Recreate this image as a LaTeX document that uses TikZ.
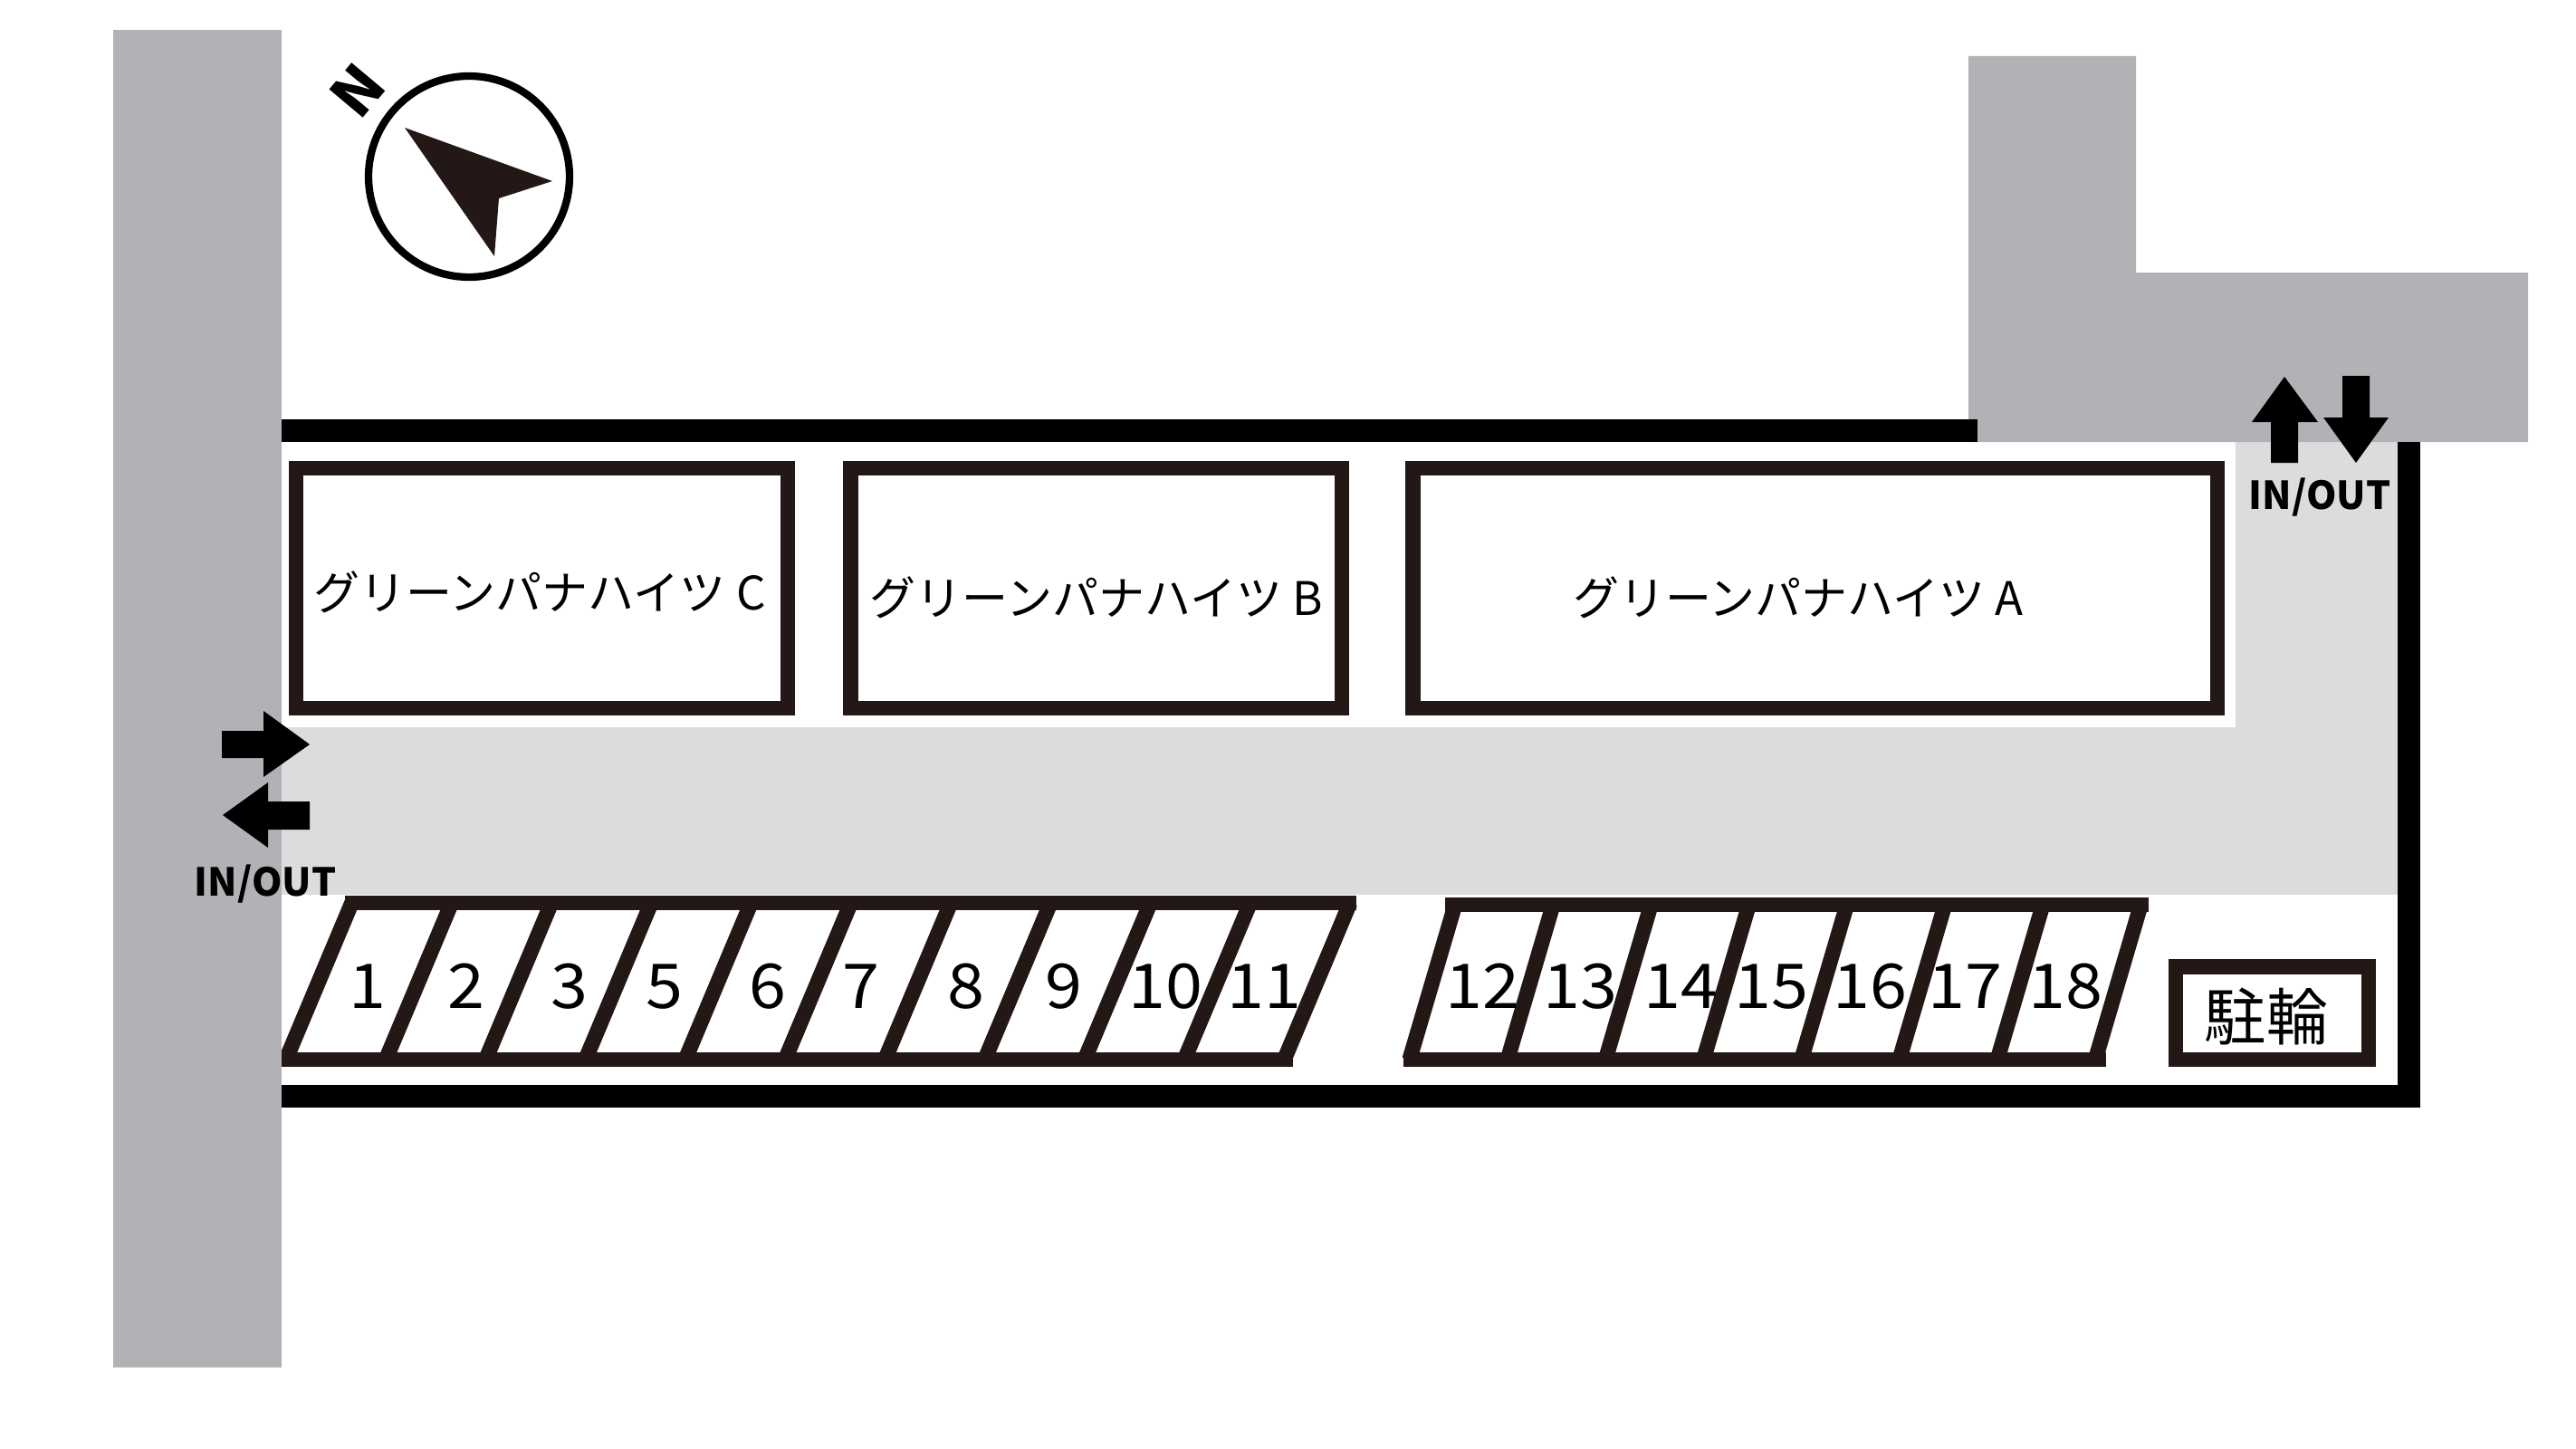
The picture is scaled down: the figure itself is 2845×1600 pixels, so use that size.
\documentclass[tikz,border=0pt]{standalone}
\usepackage{fontspec}
\setmainfont{Noto Sans CJK JP}
\newfontfamily\slotfont[FakeStretch=1.08]{Noto Sans CJK JP}
\definecolor{roadgray}{HTML}{B2B2B6}
\definecolor{lanegray}{HTML}{DCDCDC}
\definecolor{inkbrown}{HTML}{231815}
\tikzset{
  road/.style={fill=roadgray},
  lane/.style={fill=lanegray},
  wall/.style={fill=black},
  bldg/.style={draw=inkbrown, line width=4.75pt, fill=white},
  bar/.style={fill=inkbrown},
  stripe/.style={draw=inkbrown, line width=4.75pt},
  dir/.style={fill=black},
  slotno/.style={anchor=base, inner sep=0pt, font=\slotfont\fontsize{19.4}{23}\selectfont},
  bikename/.style={anchor=base, inner sep=0pt, font=\fontsize{19.4}{23}\selectfont},
  bldgname/.style={anchor=base, inner sep=0pt, font=\fontsize{14.5}{17}\selectfont},
  inout/.style={anchor=base, inner sep=0pt, font=\bfseries\fontsize{12.1}{15}\selectfont},
}

\begin{document}
\begin{tikzpicture}[x=0.01cm, y=-0.01cm]
  \useasboundingbox (0,0) rectangle (2845,1600);

  % lanes
  \fill[lane] (311,803) rectangle (2648,988);
  \fill[lane] (2469,488) rectangle (2648,803);

  % roads
  \fill[road] (125,33) rectangle (311,1510);
  \fill[road] (2174,62) -- (2359,62) -- (2359,301) -- (2792,301) -- (2792,488) -- (2174,488) -- cycle;

  % site walls
  \fill[wall] (311,463) rectangle (2184,488);
  \fill[wall] (2648,488) rectangle (2673,1223);
  \fill[wall] (311,1198) rectangle (2673,1223);

  % compass
  \draw[line width=2.35pt, fill=white] (518,195) circle (111);
  \fill[inkbrown] (447,141) -- (610,200) -- (551,219) -- (546,283) -- cycle;
  \node[rotate=50, inner sep=0pt, font=\bfseries\fontsize{18.5}{22}\selectfont] (north) at (395,100) {N};

  % buildings
  \draw[bldg] (327,517) rectangle (870,782);
  \draw[bldg] (939.5,517) rectangle (1482,782);
  \draw[bldg] (1560.5,517) rectangle (2449,782);
  \node[bldgname] (bldgc) at (596,673) {グリーンパナハイツ C};
  \node[bldgname] (bldgb) at (1211,679) {グリーンパナハイツ B};
  \node[bldgname] (bldga) at (1986,679) {グリーンパナハイツ A};

  % parking, left row
  \fill[bar] (381,989) rectangle (1498,1005);
  \fill[bar] (311,1162) rectangle (1428,1178);
  \begin{scope}
    \clip (311,980) rectangle (1510,1178);
    \foreach \k in {0,...,10}
      \draw[stripe] ({388.5+110.25*\k},997) -- ({315.8+110.25*\k},1170);
  \end{scope}
  \foreach \x/\n in {406/1, 515/2, 629/3, 734/5, 848/6, 951/7, 1067/8, 1175/9, 1287/10, 1396/11}
    \node[slotno] (slot\n) at (\x,1113) {\n};

  % parking, right row
  \fill[bar] (1596,991) rectangle (2373,1007);
  \fill[bar] (1550,1162) rectangle (2326,1178);
  \foreach \k in {0,...,7}
    \draw[stripe] ({1607+108.2*\k},999) -- ({1556.7+108.2*\k},1170);
  \foreach \x/\n in {1637/12, 1745/13, 1856/14, 1956/15, 2065/16, 2170/17, 2281/18}
    \node[slotno] (slot\n) at (\x,1113) {\n};

  % bicycle shed
  \draw[bldg] (2403,1067.5) rectangle (2616,1170);
  \node[bikename] (bike) at (2503,1148) {駐輪};

  % arrows
  \fill[dir] (245,807) -- (291,807) -- (291,785) -- (342,822) -- (291,858) -- (291,837) -- (245,837) -- cycle;
  \fill[dir] (342,885) -- (296,885) -- (296,864) -- (246,900) -- (296,936) -- (296,916) -- (342,916) -- cycle;
  \fill[dir] (2508,511) -- (2508,466) -- (2487,466) -- (2523,416) -- (2560,466) -- (2538,466) -- (2538,511) -- cycle;
  \fill[dir] (2587,415) -- (2587,461) -- (2566,461) -- (2602,511) -- (2638,461) -- (2617,461) -- (2617,415) -- cycle;
  \node[inout] (inoutw) at (293,989) {IN/OUT};
  \node[inout] (inoute) at (2562,562) {IN/OUT};
\end{tikzpicture}
\end{document}
